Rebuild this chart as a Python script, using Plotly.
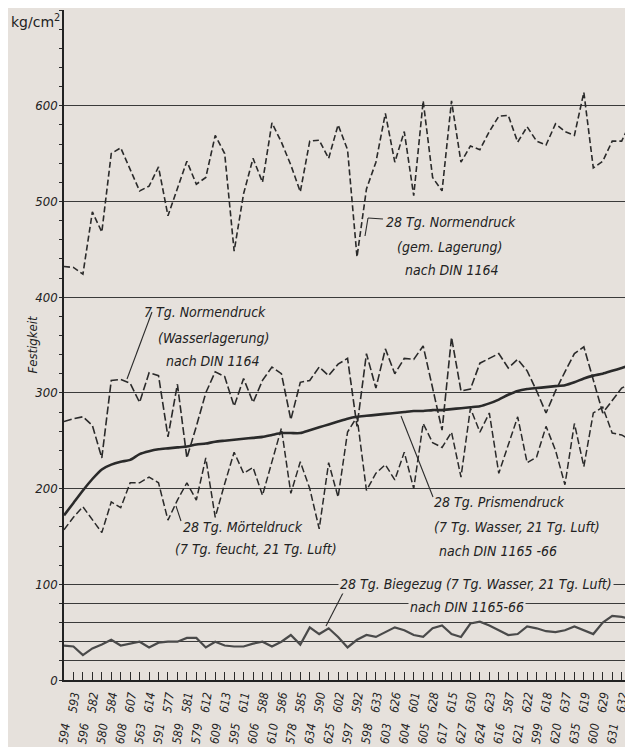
import plotly.graph_objects as go

# ---------------- data ----------------
cement_labels = [
    "594", "593", "596", "582", "580", "584", "608", "607", "563", "614",
    "591", "577", "589", "581", "579", "612", "609", "613", "595", "611",
    "606", "588", "610", "586", "578", "585", "634", "590", "625", "602",
    "597", "592", "598", "633", "603", "626", "604", "601", "605", "628",
    "617", "615", "627", "630", "624", "623", "616", "587", "621", "622",
    "599", "618", "620", "637", "635", "619", "600", "629", "631", "632",
    "636",
]

normendruck_28 = [
    432, 431, 424, 489, 468, 550, 556, 533, 511, 516,
    536, 485, 514, 542, 518, 525, 569, 550, 448, 508,
    545, 520, 582, 562, 538, 510, 563, 564, 545, 580,
    554, 442, 513, 541, 592, 541, 573, 506, 605, 525,
    511, 605, 541, 558, 554, 573, 589, 590, 562, 578,
    563, 559, 581, 573, 569, 614, 535, 542, 563, 563,
    584,
]

normendruck_7 = [
    270, 273, 275, 266, 232, 313, 314, 310, 290, 321,
    318, 254, 309, 232, 265, 300, 322, 317, 286, 315,
    290, 313, 327, 320, 272, 311, 313, 327, 318, 330,
    336, 265, 341, 305, 346, 320, 336, 335, 349, 305,
    261, 358, 302, 304, 331, 336, 341, 326, 335, 323,
    302, 279, 302, 322, 341, 348, 313, 279, 292, 305,
    310,
]

prismendruck_28 = [
    172, 185, 198, 210, 220, 225, 228, 230, 236, 239,
    241, 242, 243, 244, 246, 247, 249, 250, 251, 252,
    253, 254, 256, 258, 258, 258, 261, 264, 267, 270,
    273, 275, 276, 277, 278, 279, 280, 281, 281, 282,
    282, 283, 284, 285, 286, 289, 293, 298, 302, 304,
    305, 306, 307, 308, 311, 315, 318, 320, 323, 326,
    329,
]

moerteldruck_28 = [
    157, 170, 181, 168, 154, 186, 180, 206, 206, 212,
    206, 167, 188, 206, 188, 232, 170, 205, 238, 216,
    222, 193, 228, 263, 195, 228, 200, 158, 227, 191,
    259, 275, 198, 216, 225, 209, 238, 200, 268, 248,
    243, 259, 212, 284, 259, 279, 216, 245, 275, 227,
    233, 265, 240, 204, 268, 223, 279, 285, 258, 256,
    250,
]

biegezug_28 = [
    36, 35, 26, 33, 37, 42, 36, 38, 40, 34,
    39, 40, 40, 44, 44, 34, 40, 36, 35, 35,
    38, 40, 35, 40, 47, 37, 55, 48, 54, 45,
    34, 42, 47, 45, 50, 55, 52, 47, 45, 54,
    57, 48, 45, 59, 61, 57, 52, 47, 48, 56,
    54, 51, 50, 52, 56, 52, 48, 60, 67, 66,
    64,
]

y_major_ticks = [0, 100, 200, 300, 400, 500, 600]
y_extra_gridlines = [20, 40, 60, 80, 700]

# ---------------- geometry (page pixels; the page body has an 8px margin) ----------------
OFF = 8
PAGE_W, PAGE_H = 633, 747
W, H = PAGE_W - OFF, PAGE_H - OFF
P_LEFT, P_RIGHT, P_TOP, P_BOTTOM = 64, 633, 10, 680       # plot area in page pixels
ML, MR, MT, MB = P_LEFT - OFF, PAGE_W - P_RIGHT, P_TOP - OFF, PAGE_H - P_BOTTOM
XMAX = 60.2
YMAX = 700


def X(px):
    return (px - P_LEFT) / (P_RIGHT - P_LEFT) * XMAX


def Y(py):
    return (P_BOTTOM - py) / (P_BOTTOM - P_TOP) * YMAX


BG = "#e6e1dc"
INK = "#2a2a2a"
GRID = "#3a3a3a"
FONT = "DejaVu Sans Condensed, Liberation Sans Narrow, DejaVu Sans, sans-serif"

n = len(cement_labels)
xs = list(range(n))

fig = go.Figure()

fig.add_trace(go.Scatter(x=xs, y=normendruck_28, mode="lines",
                         line=dict(color=INK, width=1.6, dash="6px,3px"),
                         hoverinfo="skip"))
fig.add_trace(go.Scatter(x=xs, y=normendruck_7, mode="lines",
                         line=dict(color=INK, width=1.6, dash="8px,3px"),
                         hoverinfo="skip"))
fig.add_trace(go.Scatter(x=xs, y=moerteldruck_28, mode="lines",
                         line=dict(color=INK, width=1.5, dash="7px,3px"),
                         hoverinfo="skip"))
fig.add_trace(go.Scatter(x=xs, y=prismendruck_28, mode="lines",
                         line=dict(color=INK, width=2.6, shape="spline", smoothing=0.6),
                         hoverinfo="skip"))
fig.add_trace(go.Scatter(x=xs, y=biegezug_28, mode="lines",
                         line=dict(color="#4a4a4a", width=2.2),
                         hoverinfo="skip"))
# helper traces so that the overlay axes (upper label row, extra gridlines) are drawn
fig.add_trace(go.Scatter(x=xs, y=[None] * n, xaxis="x2", yaxis="y", mode="lines",
                         hoverinfo="skip"))
fig.add_trace(go.Scatter(x=xs, y=[None] * n, xaxis="x", yaxis="y2", mode="lines",
                         hoverinfo="skip"))

tick_font = dict(family=FONT, size=12, color="#222", style="italic")

fig.update_layout(
    width=W, height=H,
    margin=dict(l=ML, r=MR, t=MT, b=MB, autoexpand=False),
    paper_bgcolor=BG, plot_bgcolor=BG,
    showlegend=False,
    xaxis=dict(
        range=[0, XMAX], tickmode="array", tickvals=xs[0::2], ticktext=cement_labels[0::2],
        ticks="inside", ticklen=8, tickwidth=1.2, tickcolor=INK,
        showline=True, linecolor="#222", linewidth=1.6,
        showgrid=False, zeroline=False, automargin=False,
        tickangle=-82, tickfont=tick_font,
        ticklabelstandoff=33,
    ),
    xaxis2=dict(
        range=[0, XMAX], overlaying="x", anchor="y", side="bottom",
        tickmode="array", tickvals=xs[1::2], ticktext=cement_labels[1::2],
        ticks="inside", ticklen=8, tickwidth=1.2, tickcolor=INK,
        showline=False, showgrid=False, zeroline=False, automargin=False,
        tickangle=-82, tickfont=tick_font,
        ticklabelstandoff=5,
    ),
    yaxis=dict(
        range=[0, YMAX], tickmode="array", tickvals=y_major_ticks,
        showgrid=True, gridcolor=GRID, gridwidth=1.3,
        ticks="", showline=True, linecolor="#222", linewidth=1.6, zeroline=False,
        automargin=False,
        minor=dict(ticks="outside", dtick=20, tick0=0, ticklen=3, tickcolor=INK,
                   showgrid=False),
        tickfont=dict(family=FONT, size=13, color="#222", style="italic"),
        ticklabelstandoff=2,
    ),
    yaxis2=dict(
        range=[0, YMAX], overlaying="y", anchor="x", side="left",
        tickmode="array", tickvals=y_extra_gridlines, showticklabels=False,
        showgrid=True, gridcolor=GRID, gridwidth=1.3,
        ticks="", showline=False, zeroline=False, automargin=False,
    ),
)

annotations = []


def txt(text, px, py, xanchor="center", size=14, style="italic", bg=None):
    d = dict(text=text, x=X(px), y=Y(py), xref="x", yref="y", showarrow=False,
             xanchor=xanchor, yanchor="middle",
             font=dict(family=FONT, size=size, color="#222", style=style))
    if bg:
        d.update(bgcolor=bg, borderpad=1)
    annotations.append(d)


# 28 Tg. Normendruck
txt("28 Tg. Normendruck", 384, 222, "left")
txt("(gem. Lagerung)", 449, 247)
txt("nach DIN 1164", 452, 270)
# 7 Tg. Normendruck
txt("7 Tg. Normendruck", 142, 312, "left")
txt("(Wasserlagerung)", 213, 338)
txt("nach DIN 1164", 213, 361)
# 28 Tg. Mörteldruck
txt("28 Tg. Mörteldruck", 181, 527, "left")
txt("(7 Tg. feucht, 21 Tg. Luft)", 173, 549, "left")
# 28 Tg. Prismendruck
txt("28 Tg. Prismendruck", 432, 502, "left")
txt("(7 Tg. Wasser, 21 Tg. Luft)", 432, 527, "left")
txt("nach DIN 1165 -66", 437, 551, "left")
# 28 Tg. Biegezug
txt("28 Tg. Biegezug (7 Tg. Wasser, 21 Tg. Luft)", 338, 584, "left", bg=BG)
txt("nach DIN 1165-66", 408, 607, "left", bg=BG)
# axis captions
annotations.append(dict(text="kg/cm<sup>2</sup>", x=0, y=1.0, xref="paper", yref="paper",
                        xshift=-ML + 1, yshift=0, showarrow=False, xanchor="left", yanchor="top",
                        font=dict(family="DejaVu Sans, sans-serif", size=14, color="#222")))
annotations.append(dict(text="Festigkeit", x=0, y=Y(345), xref="paper", yref="y",
                        xshift=-42, showarrow=False, textangle=-90,
                        font=dict(family=FONT, size=13, color="#222", style="italic")))

fig.update_layout(annotations=annotations)

# leader lines
shapes = []


def seg(p1, p2):
    shapes.append(dict(type="line", xref="x", yref="y",
                       x0=X(p1[0]), y0=Y(p1[1]), x1=X(p2[0]), y1=Y(p2[1]),
                       line=dict(color=INK, width=1.1)))


seg((383, 219), (368, 218))
seg((368, 218), (365, 236))
seg((152, 312), (127, 379))
seg((181, 521), (176, 506))
seg((433, 497), (401, 416))
seg((344, 591), (326, 626))
fig.update_layout(shapes=shapes)

fig.write_html("out.html")
